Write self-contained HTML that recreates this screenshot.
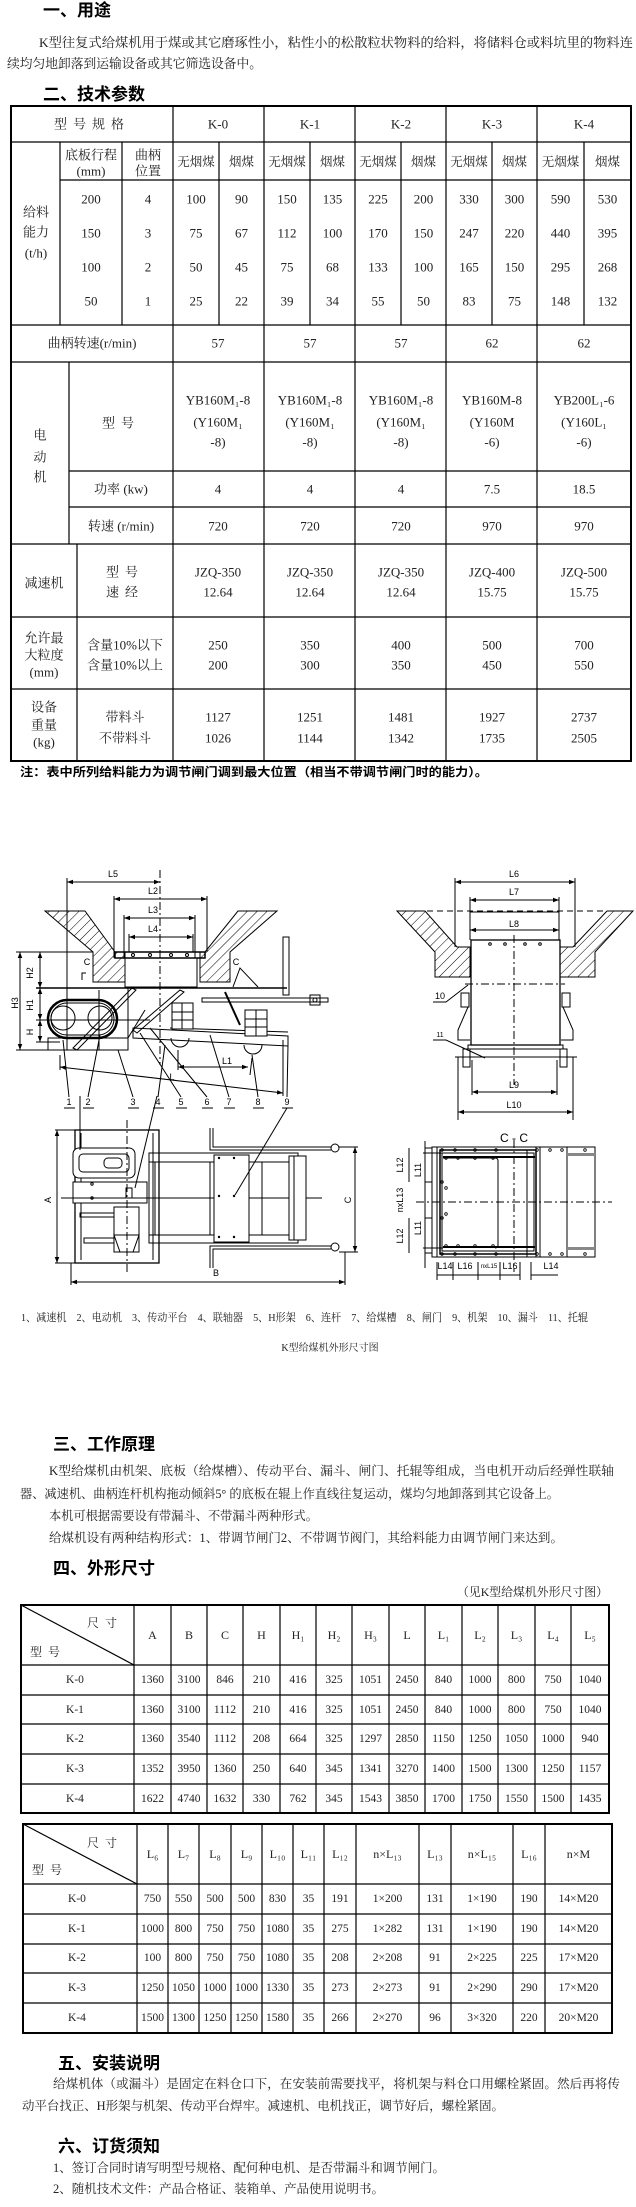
<!DOCTYPE html>
<html><head><meta charset="utf-8"><style>
html,body{margin:0;padding:0;background:#fff;}
svg{display:block;}
.s{font-family:"Liberation Serif","Noto Serif CJK SC",serif;}
.h{font-family:"Liberation Sans","Noto Sans CJK SC",sans-serif;font-weight:bold;}
.a{font-family:"Liberation Sans","Noto Sans CJK SC",sans-serif;}
</style></head><body>
<svg width="636" height="2207" viewBox="0 0 636 2207" xmlns="http://www.w3.org/2000/svg">
<defs>
<pattern id="hat" patternUnits="userSpaceOnUse" width="7" height="7" patternTransform="rotate(45)"><line x1="0" y1="0" x2="0" y2="7" stroke="#000" stroke-width="1"/></pattern>
<marker id="ar" viewBox="0 0 8 8" refX="8" refY="4" markerWidth="6" markerHeight="6" orient="auto-start-reverse"><path d="M0,1 L8,4 L0,7z" fill="#000"/></marker>
</defs>
<rect width="636" height="2207" fill="#fff"/>

<!-- Section 1 -->
<text class="h" x="43" y="16" font-size="17">一、用途</text>
<g class="s" font-size="13" fill="#222">
<text x="39" y="47" textLength="594" lengthAdjust="spacingAndGlyphs">K型往复式给煤机用于煤或其它磨琢性小，粘性小的松散粒状物料的给料，将储料仓或料坑里的物料连</text>
<text x="7" y="68" textLength="255" lengthAdjust="spacingAndGlyphs">续均匀地卸落到运输设备或其它筛选设备中。</text>
</g>
<text class="h" x="43" y="100" font-size="17">二、技术参数</text>

<!-- Table 1 -->
<g stroke="#000" fill="none">
<rect x="11" y="106" width="620" height="655" stroke-width="2"/>
<g stroke-width="1.2">
<line x1="11" y1="142" x2="631" y2="142"/>
<line x1="60" y1="180" x2="631" y2="180"/>
<line x1="11" y1="325" x2="631" y2="325"/>
<line x1="11" y1="362" x2="631" y2="362"/>
<line x1="69" y1="471" x2="631" y2="471"/>
<line x1="69" y1="507" x2="631" y2="507"/>
<line x1="11" y1="544" x2="631" y2="544"/>
<line x1="11" y1="617" x2="631" y2="617"/>
<line x1="11" y1="689" x2="631" y2="689"/>
<line x1="173" y1="106" x2="173" y2="761"/>
<line x1="264" y1="106" x2="264" y2="761"/>
<line x1="355" y1="106" x2="355" y2="761"/>
<line x1="446" y1="106" x2="446" y2="761"/>
<line x1="537" y1="106" x2="537" y2="761"/>
<line x1="60" y1="142" x2="60" y2="325"/>
<line x1="122" y1="142" x2="122" y2="325"/>
<line x1="219" y1="142" x2="219" y2="325"/>
<line x1="310" y1="142" x2="310" y2="325"/>
<line x1="401" y1="142" x2="401" y2="325"/>
<line x1="492" y1="142" x2="492" y2="325"/>
<line x1="584" y1="142" x2="584" y2="325"/>
<line x1="69" y1="362" x2="69" y2="544"/>
<line x1="77" y1="544" x2="77" y2="761"/>
</g></g>
<g class="s" font-size="13" text-anchor="middle" dominant-baseline="central" fill="#222">
<text x="92" y="124" letter-spacing="6">型号规格</text>
<text x="218" y="124">K-0</text><text x="310" y="124">K-1</text><text x="401" y="124">K-2</text><text x="492" y="124">K-3</text><text x="584" y="124">K-4</text>
<text x="91" y="155">底板行程</text><text x="91" y="171">(mm)</text>
<text x="148" y="155">曲柄</text><text x="148" y="171">位置</text>
<g font-size="12.5">
<text x="196" y="162">无烟煤</text><text x="241.5" y="162">烟煤</text>
<text x="287" y="162">无烟煤</text><text x="332.5" y="162">烟煤</text>
<text x="378" y="162">无烟煤</text><text x="423.5" y="162">烟煤</text>
<text x="469" y="162">无烟煤</text><text x="514.5" y="162">烟煤</text>
<text x="560.5" y="162">无烟煤</text><text x="607.5" y="162">烟煤</text>
</g>
<text x="36" y="212">给料</text><text x="36" y="232">能力</text><text x="36" y="253">(t/h)</text>
<text x="91" y="199">200</text><text x="148" y="199">4</text>
<text x="91" y="233">150</text><text x="148" y="233">3</text>
<text x="91" y="267">100</text><text x="148" y="267">2</text>
<text x="91" y="301">50</text><text x="148" y="301">1</text>
<text x="196" y="199">100</text><text x="241.5" y="199">90</text><text x="287" y="199">150</text><text x="332.5" y="199">135</text><text x="378" y="199">225</text><text x="423.5" y="199">200</text><text x="469" y="199">330</text><text x="514.5" y="199">300</text><text x="560.5" y="199">590</text><text x="607.5" y="199">530</text>
<text x="196" y="233">75</text><text x="241.5" y="233">67</text><text x="287" y="233">112</text><text x="332.5" y="233">100</text><text x="378" y="233">170</text><text x="423.5" y="233">150</text><text x="469" y="233">247</text><text x="514.5" y="233">220</text><text x="560.5" y="233">440</text><text x="607.5" y="233">395</text>
<text x="196" y="267">50</text><text x="241.5" y="267">45</text><text x="287" y="267">75</text><text x="332.5" y="267">68</text><text x="378" y="267">133</text><text x="423.5" y="267">100</text><text x="469" y="267">165</text><text x="514.5" y="267">150</text><text x="560.5" y="267">295</text><text x="607.5" y="267">268</text>
<text x="196" y="301">25</text><text x="241.5" y="301">22</text><text x="287" y="301">39</text><text x="332.5" y="301">34</text><text x="378" y="301">55</text><text x="423.5" y="301">50</text><text x="469" y="301">83</text><text x="514.5" y="301">75</text><text x="560.5" y="301">148</text><text x="607.5" y="301">132</text>
<text x="92" y="343">曲柄转速(r/min)</text>
<text x="218" y="343">57</text><text x="310" y="343">57</text><text x="401" y="343">57</text><text x="492" y="343">62</text><text x="584" y="343">62</text>
<text x="40" y="435">电</text><text x="40" y="457">动</text><text x="40" y="477">机</text>
<text x="121" y="423" letter-spacing="6">型号</text>
<text x="218" y="400">YB160M₁-8</text><text x="218" y="422">(Y160M₁</text><text x="218" y="442">-8)</text>
<text x="310" y="400">YB160M₁-8</text><text x="310" y="422">(Y160M₁</text><text x="310" y="442">-8)</text>
<text x="401" y="400">YB160M₁-8</text><text x="401" y="422">(Y160M₁</text><text x="401" y="442">-8)</text>
<text x="492" y="400">YB160M-8</text><text x="492" y="422">(Y160M</text><text x="492" y="442">-6)</text>
<text x="584" y="400">YB200L₁-6</text><text x="584" y="422">(Y160L₁</text><text x="584" y="442">-6)</text>
<text x="121" y="489">功率 (kw)</text>
<text x="218" y="489">4</text><text x="310" y="489">4</text><text x="401" y="489">4</text><text x="492" y="489">7.5</text><text x="584" y="489">18.5</text>
<text x="121" y="526">转速 (r/min)</text>
<text x="218" y="526">720</text><text x="310" y="526">720</text><text x="401" y="526">720</text><text x="492" y="526">970</text><text x="584" y="526">970</text>
<text x="44" y="583">减速机</text>
<text x="125" y="572" letter-spacing="6">型号</text><text x="125" y="592" letter-spacing="6">速经</text>
<text x="218" y="572">JZQ-350</text><text x="218" y="592">12.64</text>
<text x="310" y="572">JZQ-350</text><text x="310" y="592">12.64</text>
<text x="401" y="572">JZQ-350</text><text x="401" y="592">12.64</text>
<text x="492" y="572">JZQ-400</text><text x="492" y="592">15.75</text>
<text x="584" y="572">JZQ-500</text><text x="584" y="592">15.75</text>
<text x="44" y="638">允许最</text><text x="44" y="655">大粒度</text><text x="44" y="672">(mm)</text>
<text x="125" y="645">含量10%以下</text><text x="125" y="665">含量10%以上</text>
<text x="218" y="645">250</text><text x="218" y="665">200</text>
<text x="310" y="645">350</text><text x="310" y="665">300</text>
<text x="401" y="645">400</text><text x="401" y="665">350</text>
<text x="492" y="645">500</text><text x="492" y="665">450</text>
<text x="584" y="645">700</text><text x="584" y="665">550</text>
<text x="44" y="707">设备</text><text x="44" y="725">重量</text><text x="44" y="742">(kg)</text>
<text x="125" y="717">带料斗</text><text x="125" y="738">不带料斗</text>
<text x="218" y="717">1127</text><text x="218" y="738">1026</text>
<text x="310" y="717">1251</text><text x="310" y="738">1144</text>
<text x="401" y="717">1481</text><text x="401" y="738">1342</text>
<text x="492" y="717">1927</text><text x="492" y="738">1735</text>
<text x="584" y="717">2737</text><text x="584" y="738">2505</text>
</g>
<text class="h" x="20" y="776" font-size="12" textLength="468" lengthAdjust="spacingAndGlyphs">注：表中所列给料能力为调节闸门调到最大位置（相当不带调节闸门时的能力）。</text>

<!-- Side view drawing -->
<g stroke="#000" fill="none" stroke-width="1">
<polygon points="45,911 85,911 115,952 125,952 125,982 93,982 93,952" fill="url(#hat)"/>
<polygon points="277,911 238,911 205,952 200,952 200,982 230,982 230,952" fill="url(#hat)"/>
<rect x="115" y="952" width="90" height="6" stroke-width="1.5"/>
<rect x="125" y="958" width="72" height="29"/>
<circle cx="133" cy="955" r="1.5"/><circle cx="150" cy="955" r="1.5"/><circle cx="171" cy="955" r="1.5"/><circle cx="187" cy="955" r="1.5"/>
<line x1="160" y1="870" x2="160" y2="1065" stroke-dasharray="8,3,2,3"/>
<line x1="67" y1="882" x2="160" y2="882" marker-start="url(#ar)" marker-end="url(#ar)"/>
<line x1="67" y1="878" x2="67" y2="1050"/>
<line x1="114" y1="899" x2="207" y2="899" marker-start="url(#ar)" marker-end="url(#ar)"/>
<line x1="114" y1="896" x2="114" y2="958"/><line x1="207" y1="896" x2="207" y2="952"/>
<line x1="124" y1="918" x2="195" y2="918" marker-start="url(#ar)" marker-end="url(#ar)"/>
<line x1="124" y1="915" x2="124" y2="958"/><line x1="195" y1="915" x2="195" y2="958"/>
<line x1="129" y1="937" x2="193" y2="937" marker-start="url(#ar)" marker-end="url(#ar)"/>
<line x1="129" y1="934" x2="129" y2="952"/><line x1="193" y1="934" x2="193" y2="952"/>
<line x1="16" y1="952" x2="93" y2="952"/>
<line x1="36" y1="988" x2="287" y2="988" stroke-width="1.5"/>
<line x1="36" y1="1020" x2="150" y2="1020"/>
<line x1="36" y1="1042" x2="60" y2="1042"/>
<line x1="16" y1="1050" x2="128" y2="1050"/>
<line x1="20" y1="952" x2="20" y2="1050" marker-start="url(#ar)" marker-end="url(#ar)"/>
<line x1="40" y1="952" x2="40" y2="988" marker-start="url(#ar)" marker-end="url(#ar)"/>
<line x1="40" y1="988" x2="40" y2="1020" marker-start="url(#ar)" marker-end="url(#ar)"/>
<line x1="40" y1="1020" x2="40" y2="1042" marker-start="url(#ar)" marker-end="url(#ar)"/>
<rect x="48" y="1000" width="69" height="38" rx="19" stroke-width="2.5"/>
<rect x="51" y="1003" width="63" height="32" rx="16"/>
<circle cx="63" cy="1018" r="12"/><circle cx="100" cy="1018" r="12"/>
<rect x="48" y="1038" width="80" height="12"/>
<line x1="99" y1="990" x2="99" y2="1050"/>
<polygon points="73,1048 77,1050 136,990 132,988"/>
<polygon points="133,1030 137,1033 184,992 180,990"/>
<line x1="128" y1="988" x2="128" y2="1038"/>
<line x1="128" y1="1038" x2="145" y2="1010"/>
<polygon points="133,1028 288,1036 288,1046 133,1038"/>
<line x1="170" y1="1028" x2="288" y2="1032"/>
<rect x="172" y="1003" width="21" height="26" fill="#fff"/>
<line x1="172" y1="1012" x2="193" y2="1012"/><line x1="172" y1="1020" x2="193" y2="1020"/><line x1="182" y1="1003" x2="182" y2="1029"/>
<rect x="245" y="1010" width="22" height="26" fill="#fff"/>
<line x1="245" y1="1019" x2="267" y2="1019"/><line x1="245" y1="1027" x2="267" y2="1027"/><line x1="256" y1="1010" x2="256" y2="1036"/>
<path d="M171,1038 A9,9 0 0 0 189,1038"/><path d="M244,1045 A9,9 0 0 0 262,1045"/>
<rect x="283" y="937" width="6" height="58"/>
<rect x="202" y="998" width="126" height="4"/>
<rect x="310" y="995" width="10" height="10"/>
<circle cx="315" cy="1000" r="2"/>
<polyline points="233,987 240,968 258,987"/>
<line x1="225" y1="992" x2="240" y2="1025" stroke-width="2"/>
<polyline points="82,980 82,973 86,973"/>
<line x1="60" y1="1067" x2="283" y2="1093" marker-start="url(#ar)" marker-end="url(#ar)"/>
<line x1="60" y1="1055" x2="60" y2="1070"/><line x1="283" y1="1040" x2="283" y2="1096"/>
<line x1="178" y1="1067" x2="248" y2="1067" marker-start="url(#ar)" marker-end="url(#ar)"/>
<line x1="178" y1="1050" x2="178" y2="1070"/><line x1="252" y1="1058" x2="250" y2="1075"/>
<line x1="69" y1="1097" x2="63" y2="1040"/><line x1="88" y1="1097" x2="100" y2="1035"/>
<line x1="133" y1="1097" x2="118" y2="1050"/><line x1="158" y1="1097" x2="165" y2="1045"/>
<line x1="181" y1="1097" x2="140" y2="1033"/><line x1="207" y1="1097" x2="150" y2="1028"/>
<line x1="229" y1="1097" x2="210" y2="1035"/><line x1="258" y1="1097" x2="252" y2="1055"/>
<line x1="287" y1="1097" x2="288" y2="1045"/>
<line x1="64" y1="1108" x2="75" y2="1108"/><line x1="83" y1="1108" x2="94" y2="1108"/><line x1="128" y1="1108" x2="139" y2="1108"/><line x1="153" y1="1108" x2="164" y2="1108"/><line x1="176" y1="1108" x2="187" y2="1108"/><line x1="202" y1="1108" x2="213" y2="1108"/><line x1="224" y1="1108" x2="235" y2="1108"/><line x1="253" y1="1108" x2="264" y2="1108"/><line x1="282" y1="1108" x2="293" y2="1108"/>
</g>
<g class="a" font-size="9" fill="#000" text-anchor="middle">
<text x="113" y="877">L5</text><text x="153" y="894">L2</text><text x="153" y="913">L3</text><text x="153" y="932">L4</text>
<text x="87" y="965">C</text><text x="236" y="965">C</text>
<text x="227" y="1064">L1</text><text x="172" y="1080">L</text>
<text transform="translate(18,1003) rotate(-90)">H3</text>
<text transform="translate(33,973) rotate(-90)">H2</text>
<text transform="translate(33,1005) rotate(-90)">H1</text>
<text transform="translate(33,1032) rotate(-90)">H</text>
<text x="69" y="1105">1</text><text x="88" y="1105">2</text><text x="133" y="1105">3</text><text x="158" y="1105">4</text><text x="181" y="1105">5</text><text x="207" y="1105">6</text><text x="229" y="1105">7</text><text x="258" y="1105">8</text><text x="287" y="1105">9</text>
</g>

<!-- Front view -->
<g stroke="#000" fill="none" stroke-width="1">
<line x1="397" y1="911" x2="633" y2="911" stroke-dasharray="6,4"/>
<polygon points="397,911 425,911 457,947 470,947 470,977 435,977 435,952" fill="url(#hat)"/>
<polygon points="633,911 607,911 573,947 560,947 560,977 595,977 595,952" fill="url(#hat)"/>
<rect x="471" y="940" width="89" height="105" stroke-width="1.3"/>
<line x1="514" y1="935" x2="514" y2="1085" stroke-dasharray="8,3,2,3"/>
<line x1="465" y1="984" x2="565" y2="984" stroke-dasharray="8,3,2,3"/>
<circle cx="490" cy="944" r="1.3"/><circle cx="505" cy="944" r="1.3"/><circle cx="525" cy="944" r="1.3"/><circle cx="540" cy="944" r="1.3"/>
<line x1="455" y1="882" x2="575" y2="882" marker-start="url(#ar)" marker-end="url(#ar)"/>
<line x1="455" y1="878" x2="455" y2="947"/><line x1="575" y1="878" x2="575" y2="947"/>
<line x1="470" y1="900" x2="559" y2="900" marker-start="url(#ar)" marker-end="url(#ar)"/>
<line x1="470" y1="897" x2="470" y2="940"/><line x1="559" y1="897" x2="559" y2="940"/>
<line x1="470" y1="930" x2="559" y2="930" marker-start="url(#ar)" marker-end="url(#ar)"/>
<line x1="470" y1="912" x2="559" y2="912"/>
<rect x="461" y="993" width="8" height="14"/><rect x="562" y="993" width="8" height="14"/>
<polyline points="468,1007 458,1030 458,1040 470,1040"/>
<polyline points="563,1007 573,1030 573,1040 561,1040"/>
<rect x="468" y="1045" width="95" height="4"/>
<rect x="463" y="1049" width="7" height="18"/><rect x="560" y="1049" width="7" height="18"/>
<line x1="455" y1="1057" x2="577" y2="1057"/>
<line x1="458" y1="1057" x2="458" y2="1120"/><line x1="573" y1="1057" x2="573" y2="1120"/>
<line x1="472" y1="1060" x2="472" y2="1095"/><line x1="557" y1="1060" x2="557" y2="1095"/>
<line x1="472" y1="1092" x2="557" y2="1092" marker-start="url(#ar)" marker-end="url(#ar)"/>
<line x1="458" y1="1112" x2="573" y2="1112" marker-start="url(#ar)" marker-end="url(#ar)"/>
<polyline points="433,1002 446,1002 468,985"/>
<polyline points="433,1040 446,1040 485,1058"/>
</g>
<g class="a" font-size="9" fill="#000" text-anchor="middle">
<text x="514" y="877">L6</text><text x="514" y="895">L7</text><text x="514" y="927">L8</text>
<text x="440" y="999">10</text><text x="440" y="1037" font-size="7">11</text>
<text x="514" y="1088">L9</text><text x="514" y="1108">L10</text>
</g>

<!-- Plan view -->
<g stroke="#000" fill="none" stroke-width="1">
<rect x="75" y="1130" width="84" height="133" stroke-width="1.3"/>
<line x1="81" y1="1133" x2="81" y2="1260"/><line x1="153" y1="1133" x2="153" y2="1260"/>
<line x1="55" y1="1130" x2="75" y2="1130"/><line x1="55" y1="1263" x2="75" y2="1263"/>
<line x1="57" y1="1130" x2="57" y2="1263" marker-start="url(#ar)" marker-end="url(#ar)"/>
<rect x="73" y="1148" width="62" height="30" rx="6" fill="#fff"/>
<rect x="79" y="1154" width="50" height="18" rx="4"/>
<rect x="104" y="1158" width="18" height="10" rx="4"/>
<rect x="73" y="1182" width="74" height="21" fill="#fff"/>
<rect x="126" y="1188" width="6" height="10"/>
<rect x="114" y="1207" width="25" height="45" fill="#fff"/>
<polygon points="114,1235 139,1235 133,1252 120,1252"/>
<rect x="80" y="1213" width="34" height="4"/>
<rect x="84" y="1238" width="30" height="5"/>
<line x1="61" y1="1198" x2="322" y2="1198"/>
<line x1="127" y1="1120" x2="127" y2="1275" stroke-dasharray="8,3,2,3"/>
<rect x="149" y="1153" width="149" height="90"/>
<rect x="149" y="1153" width="149" height="9"/>
<rect x="149" y="1235" width="149" height="8"/>
<line x1="155" y1="1162" x2="155" y2="1235"/><line x1="210" y1="1162" x2="210" y2="1235"/>
<line x1="262" y1="1162" x2="262" y2="1235"/>
<rect x="214" y="1155" width="35" height="87" fill="#fff"/>
<rect x="289" y="1156" width="17" height="84" fill="#fff"/>
<line x1="294" y1="1156" x2="294" y2="1240"/>
<polyline points="210,1128 210,1150 331,1150"/><polyline points="213,1128 213,1147 331,1147"/>
<polyline points="210,1268 210,1246 331,1246"/><polyline points="213,1268 213,1249 331,1249"/>
<circle cx="335" cy="1148" r="4"/><circle cx="335" cy="1247" r="4"/>
<line x1="339" y1="1147" x2="358" y2="1147"/><line x1="339" y1="1252" x2="358" y2="1252"/>
<line x1="355" y1="1147" x2="355" y2="1252" marker-start="url(#ar)" marker-end="url(#ar)"/>
<line x1="71" y1="1263" x2="71" y2="1285"/><line x1="345" y1="1252" x2="345" y2="1285"/>
<line x1="71" y1="1282" x2="345" y2="1282" marker-start="url(#ar)" marker-end="url(#ar)"/>
<line x1="80" y1="1096" x2="80" y2="1150"/><line x1="157" y1="1096" x2="135" y2="1188"/>
<line x1="287" y1="1108" x2="235" y2="1195"/>
</g>
<g fill="#000">
<circle cx="219" cy="1158" r="1.2"/><circle cx="234" cy="1158" r="1.2"/><circle cx="219" cy="1196" r="1.2"/><circle cx="234" cy="1196" r="1.2"/><circle cx="219" cy="1237" r="1.2"/><circle cx="234" cy="1237" r="1.2"/>
<circle cx="92" cy="1184" r="1.2" fill="none" stroke="#000"/><circle cx="92" cy="1198" r="1.2" fill="none" stroke="#000"/>
</g>
<g class="a" font-size="9" fill="#000" text-anchor="middle">
<text transform="translate(51,1200) rotate(-90)">A</text>
<text transform="translate(351,1200) rotate(-90)">C</text>
<text x="216" y="1276">B</text>
</g>

<!-- C-C view -->
<g stroke="#000" fill="none" stroke-width="1">
<rect x="432" y="1147" width="163" height="110"/>
<line x1="437" y1="1147" x2="437" y2="1257"/>
<rect x="440" y="1150" width="96" height="104" stroke-width="1.5"/>
<rect x="442" y="1153" width="92" height="98"/>
<line x1="443" y1="1157" x2="535" y2="1157" stroke-width="2"/>
<line x1="443" y1="1247" x2="535" y2="1247" stroke-width="2"/>
<path d="M443,1158 L495,1158 Q498,1158 498,1161 L498,1245 Q498,1248 495,1248"/>
<line x1="527" y1="1150" x2="527" y2="1257"/><line x1="536" y1="1147" x2="536" y2="1257"/><line x1="540" y1="1147" x2="540" y2="1257"/>
<line x1="567" y1="1147" x2="567" y2="1257"/>
<rect x="567" y="1153" width="28" height="3" fill="#888" stroke="none"/>
<rect x="567" y="1247" width="28" height="3" fill="#888" stroke="none"/>
<line x1="416" y1="1202" x2="612" y2="1202" stroke-dasharray="8,3,2,3"/>
<line x1="514" y1="1140" x2="514" y2="1272" stroke-dasharray="8,3,2,3"/>
<line x1="425" y1="1148" x2="432" y2="1148"/><line x1="425" y1="1182" x2="432" y2="1182"/><line x1="425" y1="1218" x2="432" y2="1218"/><line x1="425" y1="1253" x2="432" y2="1253"/>
<line x1="409" y1="1148" x2="409" y2="1182"/><line x1="409" y1="1218" x2="409" y2="1253"/>
<line x1="425" y1="1141" x2="425" y2="1268"/>
<line x1="423" y1="1153" x2="443" y2="1153"/><line x1="423" y1="1248" x2="443" y2="1248"/>
<line x1="437" y1="1262" x2="437" y2="1280"/><line x1="453" y1="1262" x2="453" y2="1280"/><line x1="478" y1="1262" x2="478" y2="1280"/><line x1="500" y1="1262" x2="500" y2="1280"/><line x1="520" y1="1262" x2="520" y2="1280"/><line x1="531" y1="1262" x2="531" y2="1280"/>
<line x1="437" y1="1275" x2="520" y2="1275"/>
<line x1="531" y1="1275" x2="558" y2="1275"/>
</g>
<g fill="none" stroke="#000" stroke-width="0.8">
<circle cx="442" cy="1150" r="1.3"/><circle cx="455" cy="1150" r="1.3"/><circle cx="475" cy="1150" r="1.3"/><circle cx="496" cy="1150" r="1.3"/><circle cx="537" cy="1150" r="1.3"/><circle cx="550" cy="1150" r="1.3"/><circle cx="562" cy="1150" r="1.3"/><circle cx="585" cy="1150" r="1.3"/>
<circle cx="442" cy="1254" r="1.3"/><circle cx="455" cy="1254" r="1.3"/><circle cx="475" cy="1254" r="1.3"/><circle cx="496" cy="1254" r="1.3"/><circle cx="537" cy="1254" r="1.3"/><circle cx="550" cy="1254" r="1.3"/><circle cx="562" cy="1254" r="1.3"/><circle cx="585" cy="1254" r="1.3"/>
<circle cx="442" cy="1182" r="1.3"/><circle cx="442" cy="1218" r="1.3"/><circle cx="446" cy="1188" r="1.3"/><circle cx="446" cy="1214" r="1.3"/>
<circle cx="446" cy="1158" r="1.3"/><circle cx="458" cy="1158" r="1.3"/><circle cx="475" cy="1158" r="1.3"/><circle cx="493" cy="1158" r="1.3"/>
<circle cx="446" cy="1246" r="1.3"/><circle cx="458" cy="1246" r="1.3"/><circle cx="475" cy="1246" r="1.3"/><circle cx="493" cy="1246" r="1.3"/>
</g>
<g class="a" font-size="9" fill="#000" text-anchor="middle">
<text x="514" y="1142" font-size="12">C - C</text>
<text transform="translate(403,1165) rotate(-90)">L12</text>
<text transform="translate(403,1236) rotate(-90)">L12</text>
<text transform="translate(421,1170) rotate(-90)">L11</text>
<text transform="translate(421,1228) rotate(-90)">L11</text>
<text transform="translate(403,1200) rotate(-90)">nxL13</text>
<text x="445" y="1269">L14</text><text x="465" y="1269">L16</text><text x="489" y="1268" font-size="6">nxL15</text><text x="510" y="1269">L16</text><text x="551" y="1269">L14</text>
</g>

<text class="s" x="21" y="1321" font-size="11" fill="#222" textLength="567" lengthAdjust="spacingAndGlyphs">1、减速机　2、电动机　3、传动平台　4、联轴器　5、H形架　6、连杆　7、给煤槽　8、闸门　9、机架　10、漏斗　11、托辊</text>
<text class="s" x="330" y="1351" font-size="10" fill="#222" text-anchor="middle">K型给煤机外形尺寸图</text>

<!-- Section 3 -->
<text class="h" x="53" y="1450" font-size="17">三、工作原理</text>
<g class="s" font-size="12.5" fill="#222">
<text x="49" y="1475" textLength="565" lengthAdjust="spacingAndGlyphs">K型给煤机由机架、底板（给煤槽）、传动平台、漏斗、闸门、托辊等组成，当电机开动后经弹性联轴</text>
<text x="20" y="1498" textLength="539" lengthAdjust="spacingAndGlyphs">器、减速机、曲柄连杆机构拖动倾斜5° 的底板在辊上作直线往复运动，煤均匀地卸落到其它设备上。</text>
<text x="49" y="1520" textLength="269" lengthAdjust="spacingAndGlyphs">本机可根据需要设有带漏斗、不带漏斗两种形式。</text>
<text x="49" y="1542" textLength="514" lengthAdjust="spacingAndGlyphs">给煤机设有两种结构形式：1、带调节闸门2、不带调节阀门，其给料能力由调节闸门来达到。</text>
</g>
<text class="h" x="53" y="1574" font-size="17">四、外形尺寸</text>
<text class="s" x="457" y="1596" font-size="12" fill="#222" textLength="151" lengthAdjust="spacingAndGlyphs">（见K型给煤机外形尺寸图）</text>

<!-- Table 2 -->
<g stroke="#000" fill="none" stroke-width="1.2">
<rect x="21" y="1605" width="588" height="208" stroke-width="2"/>
<line x1="21" y1="1665" x2="609" y2="1665"/><line x1="21" y1="1695" x2="609" y2="1695"/><line x1="21" y1="1724" x2="609" y2="1724"/><line x1="21" y1="1754" x2="609" y2="1754"/><line x1="21" y1="1784" x2="609" y2="1784"/>
<line x1="134" y1="1605" x2="134" y2="1813"/><line x1="171" y1="1605" x2="171" y2="1813"/><line x1="207" y1="1605" x2="207" y2="1813"/><line x1="243" y1="1605" x2="243" y2="1813"/><line x1="280" y1="1605" x2="280" y2="1813"/><line x1="316" y1="1605" x2="316" y2="1813"/><line x1="352" y1="1605" x2="352" y2="1813"/><line x1="389" y1="1605" x2="389" y2="1813"/><line x1="425" y1="1605" x2="425" y2="1813"/><line x1="462" y1="1605" x2="462" y2="1813"/><line x1="498" y1="1605" x2="498" y2="1813"/><line x1="535" y1="1605" x2="535" y2="1813"/><line x1="571" y1="1605" x2="571" y2="1813"/>
<line x1="21" y1="1605" x2="134" y2="1665"/>
</g>
<g class="s" font-size="12" text-anchor="middle" dominant-baseline="central" fill="#222">
<text x="105" y="1623" letter-spacing="6">尺寸</text><text x="48" y="1652" letter-spacing="6">型号</text>
<text x="152.5" y="1635">A</text><text x="189" y="1635">B</text><text x="225" y="1635">C</text><text x="261.5" y="1635">H</text><text x="298" y="1635">H₁</text><text x="334" y="1635">H₂</text><text x="370.5" y="1635">H₃</text><text x="407" y="1635">L</text><text x="443.5" y="1635">L₁</text><text x="480" y="1635">L₂</text><text x="516.5" y="1635">L₃</text><text x="553" y="1635">L₄</text><text x="590" y="1635">L₅</text>
<g font-size="11.5">
<text x="75" y="1680">K-0</text><text x="75" y="1710">K-1</text><text x="75" y="1739">K-2</text><text x="75" y="1769">K-3</text><text x="75" y="1799">K-4</text>
<text x="152.5" y="1680">1360</text><text x="189" y="1680">3100</text><text x="225" y="1680">846</text><text x="261.5" y="1680">210</text><text x="298" y="1680">416</text><text x="334" y="1680">325</text><text x="370.5" y="1680">1051</text><text x="407" y="1680">2450</text><text x="443.5" y="1680">840</text><text x="480" y="1680">1000</text><text x="516.5" y="1680">800</text><text x="553" y="1680">750</text><text x="590" y="1680">1040</text>
<text x="152.5" y="1710">1360</text><text x="189" y="1710">3100</text><text x="225" y="1710">1112</text><text x="261.5" y="1710">210</text><text x="298" y="1710">416</text><text x="334" y="1710">325</text><text x="370.5" y="1710">1051</text><text x="407" y="1710">2450</text><text x="443.5" y="1710">840</text><text x="480" y="1710">1000</text><text x="516.5" y="1710">800</text><text x="553" y="1710">750</text><text x="590" y="1710">1040</text>
<text x="152.5" y="1739">1360</text><text x="189" y="1739">3540</text><text x="225" y="1739">1112</text><text x="261.5" y="1739">208</text><text x="298" y="1739">664</text><text x="334" y="1739">325</text><text x="370.5" y="1739">1297</text><text x="407" y="1739">2850</text><text x="443.5" y="1739">1150</text><text x="480" y="1739">1250</text><text x="516.5" y="1739">1050</text><text x="553" y="1739">1000</text><text x="590" y="1739">940</text>
<text x="152.5" y="1769">1352</text><text x="189" y="1769">3950</text><text x="225" y="1769">1360</text><text x="261.5" y="1769">250</text><text x="298" y="1769">640</text><text x="334" y="1769">345</text><text x="370.5" y="1769">1341</text><text x="407" y="1769">3270</text><text x="443.5" y="1769">1400</text><text x="480" y="1769">1500</text><text x="516.5" y="1769">1300</text><text x="553" y="1769">1250</text><text x="590" y="1769">1157</text>
<text x="152.5" y="1799">1622</text><text x="189" y="1799">4740</text><text x="225" y="1799">1632</text><text x="261.5" y="1799">330</text><text x="298" y="1799">762</text><text x="334" y="1799">345</text><text x="370.5" y="1799">1543</text><text x="407" y="1799">3850</text><text x="443.5" y="1799">1700</text><text x="480" y="1799">1750</text><text x="516.5" y="1799">1550</text><text x="553" y="1799">1500</text><text x="590" y="1799">1435</text>
</g></g>

<!-- Table 3 -->
<g stroke="#000" fill="none" stroke-width="1.2">
<rect x="23" y="1824" width="589" height="209" stroke-width="2"/>
<line x1="23" y1="1884" x2="612" y2="1884"/><line x1="23" y1="1914" x2="612" y2="1914"/><line x1="23" y1="1944" x2="612" y2="1944"/><line x1="23" y1="1973" x2="612" y2="1973"/><line x1="23" y1="2003" x2="612" y2="2003"/>
<line x1="137" y1="1824" x2="137" y2="2033"/><line x1="168" y1="1824" x2="168" y2="2033"/><line x1="199" y1="1824" x2="199" y2="2033"/><line x1="231" y1="1824" x2="231" y2="2033"/><line x1="262" y1="1824" x2="262" y2="2033"/><line x1="293" y1="1824" x2="293" y2="2033"/><line x1="324" y1="1824" x2="324" y2="2033"/><line x1="356" y1="1824" x2="356" y2="2033"/><line x1="419" y1="1824" x2="419" y2="2033"/><line x1="451" y1="1824" x2="451" y2="2033"/><line x1="513" y1="1824" x2="513" y2="2033"/><line x1="545" y1="1824" x2="545" y2="2033"/>
<line x1="23" y1="1824" x2="137" y2="1884"/>
</g>
<g class="s" font-size="12" text-anchor="middle" dominant-baseline="central" fill="#222">
<text x="105" y="1843" letter-spacing="6">尺寸</text><text x="50" y="1870" letter-spacing="6">型号</text>
<text x="152.5" y="1854">L₆</text><text x="183.5" y="1854">L₇</text><text x="215" y="1854">L₈</text><text x="246.5" y="1854">L₉</text><text x="277.5" y="1854">L₁₀</text><text x="308.5" y="1854">L₁₁</text><text x="340" y="1854">L₁₂</text><text x="387.5" y="1854">n×L₁₃</text><text x="435" y="1854">L₁₃</text><text x="482" y="1854">n×L₁₅</text><text x="529" y="1854">L₁₆</text><text x="578.5" y="1854">n×M</text>
<g font-size="11.5">
<text x="77" y="1899">K-0</text><text x="77" y="1929">K-1</text><text x="77" y="1958">K-2</text><text x="77" y="1988">K-3</text><text x="77" y="2018">K-4</text>
<text x="152.5" y="1899">750</text><text x="183.5" y="1899">550</text><text x="215" y="1899">500</text><text x="246.5" y="1899">500</text><text x="277.5" y="1899">830</text><text x="308.5" y="1899">35</text><text x="340" y="1899">191</text><text x="387.5" y="1899">1×200</text><text x="435" y="1899">131</text><text x="482" y="1899">1×190</text><text x="529" y="1899">190</text><text x="578.5" y="1899">14×M20</text>
<text x="152.5" y="1929">1000</text><text x="183.5" y="1929">800</text><text x="215" y="1929">750</text><text x="246.5" y="1929">750</text><text x="277.5" y="1929">1080</text><text x="308.5" y="1929">35</text><text x="340" y="1929">275</text><text x="387.5" y="1929">1×282</text><text x="435" y="1929">131</text><text x="482" y="1929">1×190</text><text x="529" y="1929">190</text><text x="578.5" y="1929">14×M20</text>
<text x="152.5" y="1958">100</text><text x="183.5" y="1958">800</text><text x="215" y="1958">750</text><text x="246.5" y="1958">750</text><text x="277.5" y="1958">1080</text><text x="308.5" y="1958">35</text><text x="340" y="1958">208</text><text x="387.5" y="1958">2×208</text><text x="435" y="1958">91</text><text x="482" y="1958">2×225</text><text x="529" y="1958">225</text><text x="578.5" y="1958">17×M20</text>
<text x="152.5" y="1988">1250</text><text x="183.5" y="1988">1050</text><text x="215" y="1988">1000</text><text x="246.5" y="1988">1000</text><text x="277.5" y="1988">1330</text><text x="308.5" y="1988">35</text><text x="340" y="1988">273</text><text x="387.5" y="1988">2×273</text><text x="435" y="1988">91</text><text x="482" y="1988">2×290</text><text x="529" y="1988">290</text><text x="578.5" y="1988">17×M20</text>
<text x="152.5" y="2018">1500</text><text x="183.5" y="2018">1300</text><text x="215" y="2018">1250</text><text x="246.5" y="2018">1250</text><text x="277.5" y="2018">1580</text><text x="308.5" y="2018">35</text><text x="340" y="2018">266</text><text x="387.5" y="2018">2×270</text><text x="435" y="2018">96</text><text x="482" y="2018">3×320</text><text x="529" y="2018">220</text><text x="578.5" y="2018">20×M20</text>
</g></g>

<!-- Section 5 & 6 -->
<text class="h" x="58" y="2069" font-size="17">五、安装说明</text>
<g class="s" font-size="12.5" fill="#222">
<text x="53" y="2088" textLength="567" lengthAdjust="spacingAndGlyphs">给煤机体（或漏斗）是固定在料仓口下，在安装前需要找平，将机架与料仓口用螺栓紧固。然后再将传</text>
<text x="22" y="2110" textLength="482" lengthAdjust="spacingAndGlyphs">动平台找正、H形架与机架、传动平台焊牢。减速机、电机找正，调节好后，螺栓紧固。</text>
</g>
<text class="h" x="58" y="2152" font-size="17">六、订货须知</text>
<g class="s" font-size="12.5" fill="#222">
<text x="53" y="2172" textLength="392" lengthAdjust="spacingAndGlyphs">1、签订合同时请写明型号规格、配何种电机、是否带漏斗和调节闸门。</text>
<text x="53" y="2193" textLength="331" lengthAdjust="spacingAndGlyphs">2、随机技术文件：产品合格证、装箱单、产品使用说明书。</text>
</g>
</svg>
</body></html>
